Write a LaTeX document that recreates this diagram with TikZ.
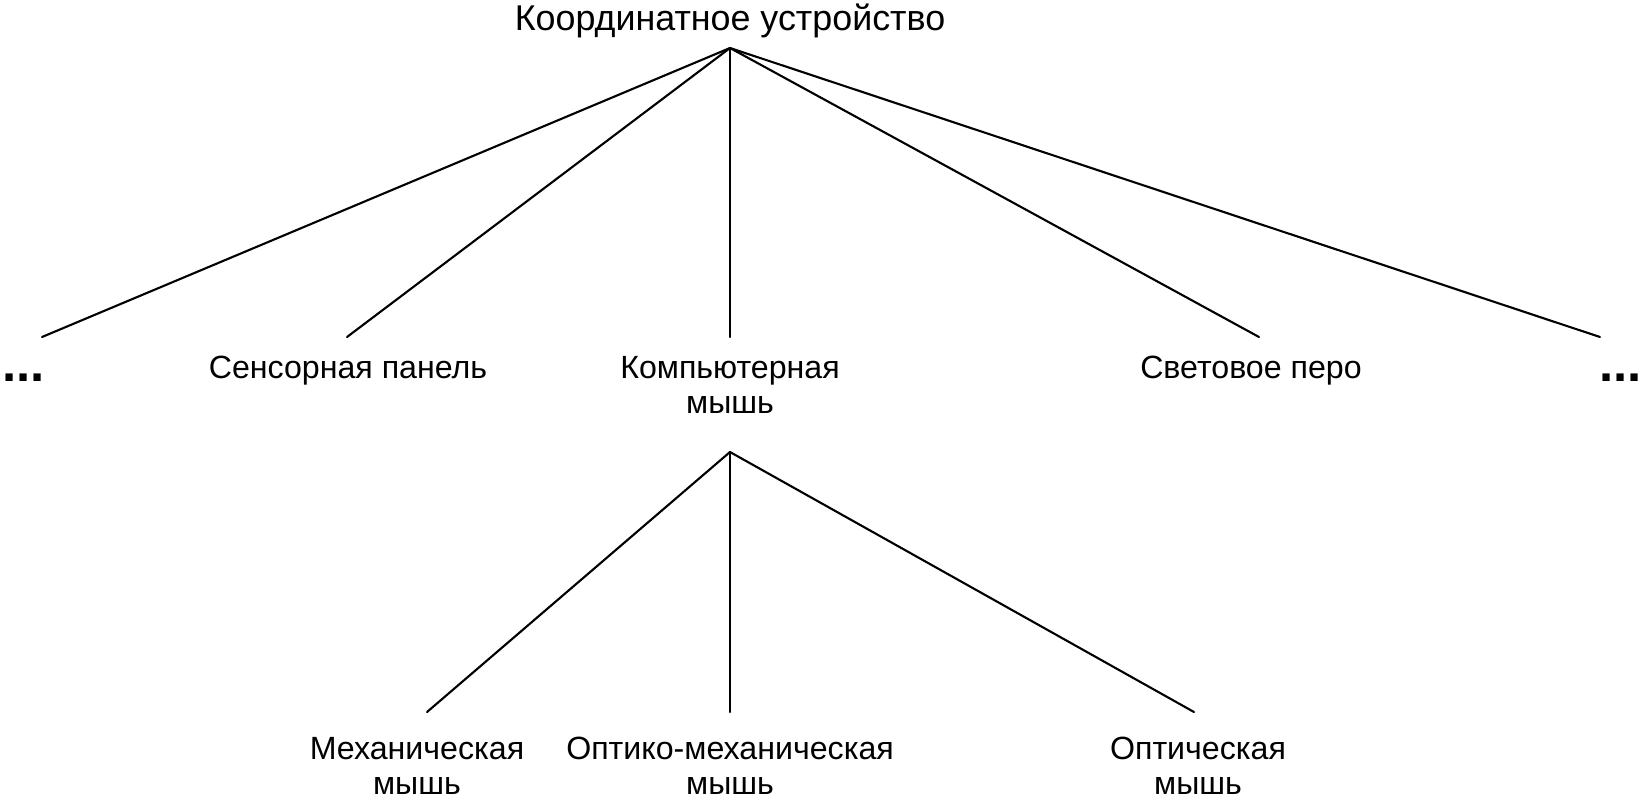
\documentclass[tikz,border=0pt]{standalone}
\usepackage{fontspec}
\setmainfont{Liberation Sans}
\begin{document}
\begin{tikzpicture}[x=0.02cm,y=-0.02cm,
  lbl/.style={inner sep=0pt, anchor=base, align=center, font=\fontsize{18.3}{19.6}\selectfont},
  toplbl/.style={inner sep=0pt, anchor=base, font=\fontsize{20.4}{22}\selectfont},
  dots/.style={inner sep=0pt, anchor=base west, font=\fontsize{29}{30}\selectfont\bfseries},
  edge/.style={line width=1.2pt, line cap=round, black}]
\useasboundingbox (0,0) rectangle (1642,799);
% nodes
\node[toplbl] (root) at (730,30) {Координатное устройство};
\node[dots] (ldots) at (2,381) {...};
\node[lbl] (touch) at (348,378) {Сенсорная панель};
\node[lbl] (mouse) at (730,413) {Компьютерная\\мышь};
\node[lbl] (pen) at (1251,378) {Световое перо};
\node[dots] (rdots) at (1599,381) {...};
\node[lbl] (mech) at (417,794) {Механическая\\мышь};
\node[lbl] (optmech) at (730,794) {Оптико-механическая\\мышь};
\node[lbl] (opt) at (1198,794) {Оптическая\\мышь};
% connector end points
\coordinate (apexA) at (730,48);
\coordinate (eL) at (42,337);
\coordinate (eT) at (347,337);
\coordinate (eM) at (730,337);
\coordinate (eP) at (1259,337);
\coordinate (eR) at (1600,337);
\coordinate (apexB) at (730,452);
\coordinate (bM) at (427,712);
\coordinate (bO) at (730,712);
\coordinate (bP) at (1194,712);
% connectors
\foreach \e in {eL,eT,eM,eP,eR} \draw[edge] (apexA) -- (\e);
\foreach \e in {bM,bO,bP} \draw[edge] (apexB) -- (\e);
\end{tikzpicture}
\end{document}
